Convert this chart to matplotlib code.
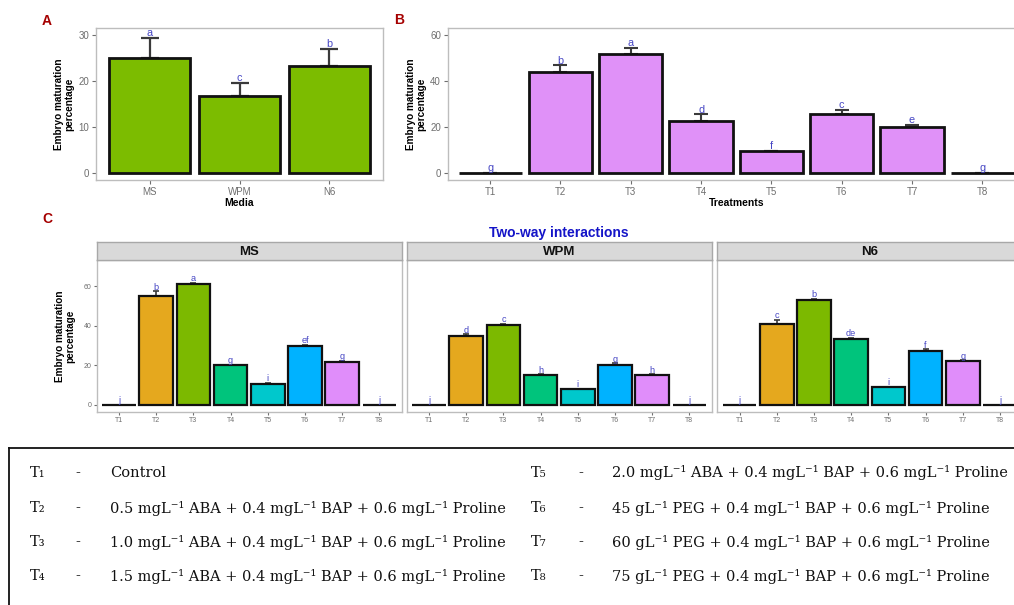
import matplotlib
matplotlib.use("Agg")
import matplotlib.pyplot as plt
from matplotlib.lines import Line2D
import numpy as np

plt.rcParams['font.family'] = ['Liberation Sans', 'DejaVu Sans']

# ---------------- data ----------------
media = ['MS', 'WPM', 'N6']
media_mean = [24.9, 16.7, 23.2]
media_sd = [4.5, 2.9, 3.8]
media_letters = ['a', 'c', 'b']

treatments = ['T1', 'T2', 'T3', 'T4', 'T5', 'T6', 'T7', 'T8']
treat_mean = [0, 43.9, 51.5, 22.7, 9.4, 25.8, 19.8, 0]
treat_sd = [0, 2.9, 3.0, 2.8, 0.4, 1.6, 1.1, 0]
treat_letters = ['g', 'b', 'a', 'd', 'f', 'c', 'e', 'g']

facets = ['MS', 'WPM', 'N6']
ms_mean = [0, 55.1, 61.3, 20.0, 10.8, 30.0, 21.9, 0]
ms_sd = [0, 2.4, 0.4, 0.3, 0.5, 0.4, 0.3, 0]
ms_letters = ['j', 'b', 'a', 'g', 'i', 'ef', 'g', 'j']
wpm_mean = [0, 35.0, 40.3, 15.2, 8.1, 20.4, 15.2, 0]
wpm_sd = [0, 0.8, 0.8, 0.3, 0.2, 0.6, 0.3, 0]
wpm_letters = ['j', 'd', 'c', 'h', 'i', 'g', 'h', 'j']
n6_mean = [0, 41.1, 53.2, 33.4, 9.1, 27.1, 22.1, 0]
n6_sd = [0, 2.0, 0.4, 0.4, 0.2, 1.0, 0.4, 0]
n6_letters = ['j', 'c', 'b', 'de', 'i', 'f', 'g', 'j']

legend_codes = ['T₁', 'T₂', 'T₃', 'T₄', 'T₅', 'T₆', 'T₇', 'T₈']
legend_desc = [
    'Control',
    '0.5 mgL⁻¹ ABA + 0.4 mgL⁻¹ BAP + 0.6 mgL⁻¹ Proline',
    '1.0 mgL⁻¹ ABA + 0.4 mgL⁻¹ BAP + 0.6 mgL⁻¹ Proline',
    '1.5 mgL⁻¹ ABA + 0.4 mgL⁻¹ BAP + 0.6 mgL⁻¹ Proline',
    '2.0 mgL⁻¹ ABA + 0.4 mgL⁻¹ BAP + 0.6 mgL⁻¹ Proline',
    '45 gL⁻¹ PEG + 0.4 mgL⁻¹ BAP + 0.6 mgL⁻¹ Proline',
    '60 gL⁻¹ PEG + 0.4 mgL⁻¹ BAP + 0.6 mgL⁻¹ Proline',
    '75 gL⁻¹ PEG + 0.4 mgL⁻¹ BAP + 0.6 mgL⁻¹ Proline',
]

# ---------------- styles ----------------
W, H = 1014, 605
fig = plt.figure(figsize=(W / 100, H / 100), dpi=100)
fig.patch.set_facecolor('white')

GREEN = '#7CBC00'
VIOLET = '#E091F8'
C_COLORS = ['#E5A81E', '#E5A81E', '#7CB900', '#00C47C', '#00C8CC', '#00B2FF', '#E08DFA', '#E08DFA']
LETTER_C = '#4646C4'
BORDER = '#BDBDBD'
TICKC = '#6E6E6E'
SERIF = ['DejaVu Serif']


def px_axes(l, t, r, b):
    return fig.add_axes([l / W, 1 - b / H, (r - l) / W, (b - t) / H])


def ftext(x, y, s, **kw):
    fig.text(x / W, 1 - y / H, s, **kw)


def style(ax, fs, ticklen=3):
    for sp in ax.spines.values():
        sp.set_color(BORDER)
        sp.set_linewidth(1.0)
    ax.tick_params(axis='both', colors=TICKC, labelcolor=TICKC, labelsize=fs,
                   length=ticklen, width=0.8, pad=2)
    ax.set_facecolor('white')


def draw_bars(ax, labels, mean, sd, letters, colors, lw, capsize, elw, lfs):
    x = np.arange(len(labels))
    ax.errorbar(x, mean, yerr=[np.zeros(len(sd)), sd], fmt='none', ecolor='#3A3A3A',
                elinewidth=elw, capsize=capsize, capthick=elw, zorder=2)
    ax.bar(x, mean, width=0.9, color=colors, edgecolor='#111111', linewidth=lw, zorder=3)
    for xi, m, s, l in zip(x, mean, sd, letters):
        ax.annotate(l, (xi, m + s), xytext=(0, 1.2), textcoords='offset points',
                    ha='center', va='baseline', color=LETTER_C, fontsize=lfs, zorder=4)
    ax.set_xticks(x)
    ax.set_xticklabels(labels)
    ax.set_xlim(-0.6, len(labels) - 0.4)


# ---------------- panel A ----------------
axA = px_axes(96, 28, 383, 180)
draw_bars(axA, media, media_mean, media_sd, media_letters, GREEN, 2.0, 6.5, 1.6, 7.8)
axA.set_ylim(-1.5, 31.5)
axA.set_yticks([0, 10, 20, 30])
style(axA, 7)
axA.set_ylabel('Embryo maturation\npercentage', fontsize=7.2, fontweight='bold', labelpad=3,
               linespacing=1.0)
axA.set_xlabel('Media', fontsize=7.5, fontweight='bold', labelpad=1)

# ---------------- panel B ----------------
axB = px_axes(448, 28, 1024.5, 180)
draw_bars(axB, treatments, treat_mean, treat_sd, treat_letters, VIOLET, 2.0, 5, 1.5, 7.8)
axB.set_ylim(-3.0, 63.0)
axB.set_yticks([0, 20, 40, 60])
style(axB, 7)
axB.set_ylabel('Embryo maturation\npercentage', fontsize=7.2, fontweight='bold', labelpad=3,
               linespacing=1.0)
axB.set_xlabel('Treatments', fontsize=7.5, fontweight='bold', labelpad=1)

# ---------------- panel C ----------------
facet_means = [ms_mean, wpm_mean, n6_mean]
facet_sds = [ms_sd, wpm_sd, n6_sd]
facet_letters = [ms_letters, wpm_letters, n6_letters]
lefts = [96.7, 406.7, 717.3]
fw = 305.0
for i, name in enumerate(facets):
    l = lefts[i]
    ax = px_axes(l, 260, l + fw, 411.7)
    draw_bars(ax, treatments, facet_means[i], facet_sds[i], facet_letters[i], C_COLORS,
              1.6, 2.4, 1.2, 6.6)
    ax.set_ylim(-3.4, 73.3)
    ax.set_yticks([0, 20, 40, 60])
    style(ax, 5, ticklen=2)
    if i == 0:
        ax.set_ylabel('Embryo maturation\npercentage', fontsize=7.2, fontweight='bold',
                      labelpad=6, linespacing=1.0)
    else:
        ax.tick_params(axis='y', labelleft=False, length=0)
    sax = px_axes(l, 242, l + fw, 260)
    sax.set_facecolor('#D9D9D9')
    sax.set_xticks([])
    sax.set_yticks([])
    for sp in sax.spines.values():
        sp.set_color('#A8A8A8')
        sp.set_linewidth(1.0)
    sax.text(0.5, 0.47, name, transform=sax.transAxes, ha='center', va='center',
             fontsize=9.5, fontweight='bold', color='#111111')

ftext(559, 233, 'Two-way interactions', ha='center', va='center', fontsize=10,
      fontweight='bold', color='#1414C8')

# panel letters
for lab, x, y in [('A', 47, 21), ('B', 399, 20), ('C', 47, 219)]:
    ftext(x, y, lab, ha='center', va='center', fontsize=10, fontweight='bold',
          color='#A50000')

# ---------------- legend box ----------------
fig.add_artist(Line2D([9 / W, 1.02], [1 - 448 / H, 1 - 448 / H], transform=fig.transFigure,
                      color='#111111', lw=1.3))
fig.add_artist(Line2D([9 / W, 9 / W], [1 - 448 / H, -0.02], transform=fig.transFigure,
                      color='#111111', lw=1.3))

rows_y = [473, 508, 542, 576]
col_x = [(30, 78, 110), (531, 581, 612)]
for k, (code, desc) in enumerate(zip(legend_codes, legend_desc)):
    c = k // 4
    r = k % 4
    xt, xd, xs = col_x[c]
    y = rows_y[r]
    tfs = 10.5
    ftext(xt, y, code, ha='left', va='center', fontsize=tfs, family=SERIF, color='#111111')
    ftext(xd, y, '-', ha='center', va='center', fontsize=tfs, family=SERIF,
          color='#111111')
    ftext(xs, y, desc, ha='left', va='center', fontsize=tfs, family=SERIF, color='#111111')

fig.savefig('out.png', dpi=100)
